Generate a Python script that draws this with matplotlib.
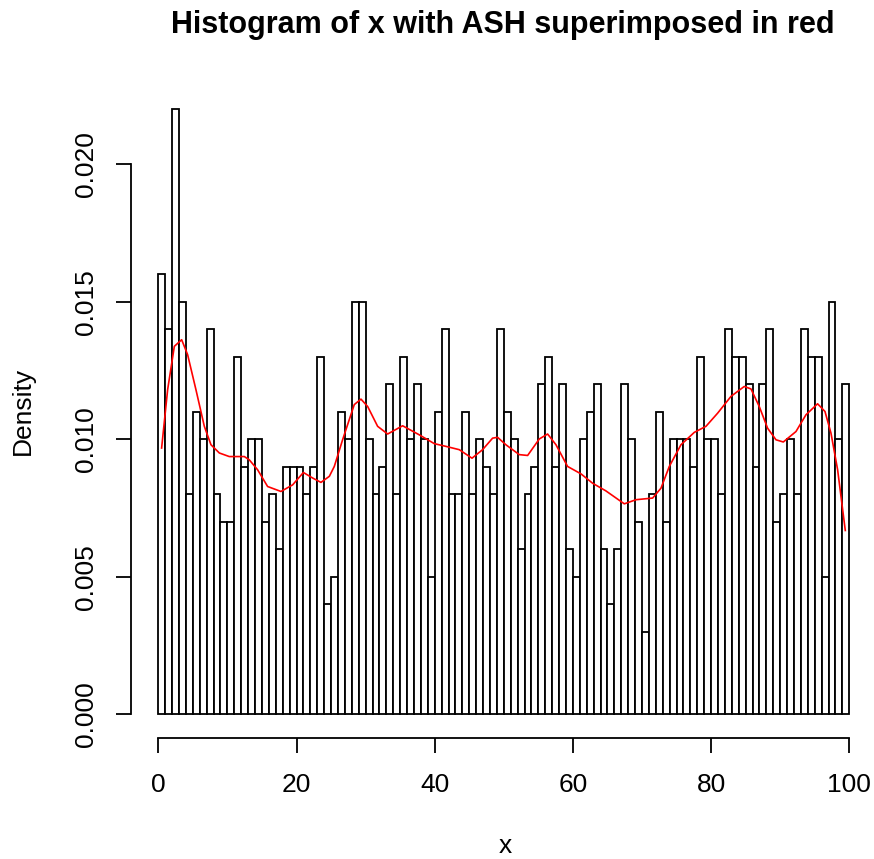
import numpy as np
import matplotlib.pyplot as plt

plt.rcParams['font.family'] = ['Liberation Sans', 'DejaVu Sans']

# counts per unit-width bin, 1000 observations in total
counts = [16, 14, 22, 15, 8, 11, 10, 14, 8, 7, 7, 13, 9, 10, 10, 7, 8, 6, 9, 9,
          9, 8, 9, 13, 4, 5, 11, 10, 15, 15, 10, 8, 9, 12, 8, 13, 10, 12, 10, 5,
          11, 14, 8, 8, 11, 8, 10, 9, 8, 14, 11, 10, 6, 8, 9, 12, 13, 9, 12, 6,
          5, 10, 11, 12, 6, 4, 6, 12, 10, 7, 3, 8, 11, 7, 10, 10, 10, 9, 13, 10,
          10, 8, 14, 13, 13, 12, 9, 12, 14, 7, 8, 10, 8, 14, 13, 13, 5, 15, 10, 12]
bin_edges = np.arange(0, 101, 1)
n_obs = 1000

# ASH curve (density x 1000)
ash_x = [0.48, 1.35, 2.32, 3.38, 4.24, 5.45, 6.66, 7.62, 8.83, 10.27, 12.45, 13.17,
         14.37, 15.82, 17.75, 19.44, 21.0, 22.33, 23.54, 24.75, 25.47, 26.67, 28.36,
         29.33, 30.3, 31.74, 33.19, 35.36, 37.77, 39.94, 41.63, 43.56, 45.4, 46.93,
         48.38, 49.1, 50.3, 52.24, 53.45, 55.14, 56.34, 57.55, 59.23, 61.17, 62.85,
         64.78, 67.44, 69.13, 71.54, 72.75, 73.95, 75.64, 77.57, 79.26, 80.95, 82.88,
         84.8, 85.77, 86.97, 88.18, 89.39, 90.45, 92.28, 93.73, 95.41, 96.48, 97.35,
         98.31, 99.42]
ash_y = [9.68, 11.80, 13.38, 13.62, 13.08, 11.80, 10.47, 9.80, 9.50, 9.37, 9.37, 9.25,
         8.89, 8.28, 8.10, 8.34, 8.79, 8.59, 8.43, 8.65, 9.01, 9.98, 11.26,
         11.46, 11.19, 10.47, 10.19, 10.49, 10.16, 9.84, 9.74, 9.62, 9.31, 9.62,
         10.04, 10.07, 9.80, 9.44, 9.41, 10.01, 10.19, 9.80, 9.01, 8.74, 8.40,
         8.12, 7.65, 7.80, 7.86, 8.22, 9.01, 9.80, 10.25, 10.47, 10.95, 11.56,
         11.92, 11.83, 11.19, 10.40, 9.98, 9.90, 10.28, 10.89, 11.29, 11.01, 10.22,
         8.89, 6.68]

W, H = 874, 859
fig = plt.figure(figsize=(W / 100, H / 100), dpi=100)

# plot region in pixels (R style, 4% padding around the data range)
x0px, x100px = 158.3, 849.3
ppu = (x100px - x0px) / 100
left_px, right_px = 131, 873
bot_px, top_px = 738.3, 85.2
ax = fig.add_axes([left_px / W, 1 - bot_px / H,
                   (right_px - left_px) / W, (bot_px - top_px) / H])
ax.set_xlim((left_px - x0px) / ppu, (right_px - x0px) / ppu)
ax.set_ylim(-0.00088, 0.02288)

dens = np.array(counts) / n_obs
ax.bar(bin_edges[:-1], dens, width=1, align='edge', color='white',
       edgecolor='black', linewidth=1.3)
ax.plot(ash_x, np.array(ash_y) / 1000, color='red', linewidth=1.2)

for s in ['top', 'right']:
    ax.spines[s].set_visible(False)
ax.spines['left'].set_bounds(0, 0.020)
ax.spines['bottom'].set_bounds(0, 100)
for s in ['left', 'bottom']:
    ax.spines[s].set_linewidth(1.3)

ax.set_xticks([0, 20, 40, 60, 80, 100])
ax.set_yticks([0, 0.005, 0.010, 0.015, 0.020])
ax.set_yticklabels(['0.000', '0.005', '0.010', '0.015', '0.020'],
                   rotation=90, va='center')
ax.tick_params(axis='both', direction='out', length=11, width=1.3,
               labelsize=19)
ax.tick_params(axis='x', pad=14)
ax.tick_params(axis='y', pad=13)

fig.text(505 / W, 1 / H, 'x', ha='center', va='bottom', fontsize=19)
fig.text(23 / W, 1 - 411 / H, 'Density', ha='center', va='center',
         rotation=90, fontsize=19)
fig.text(503 / W, 1 - 33 / H, 'Histogram of x with ASH superimposed in red',
         ha='center', va='baseline', fontsize=22, fontweight='bold')

fig.savefig('out.png', dpi=100)
